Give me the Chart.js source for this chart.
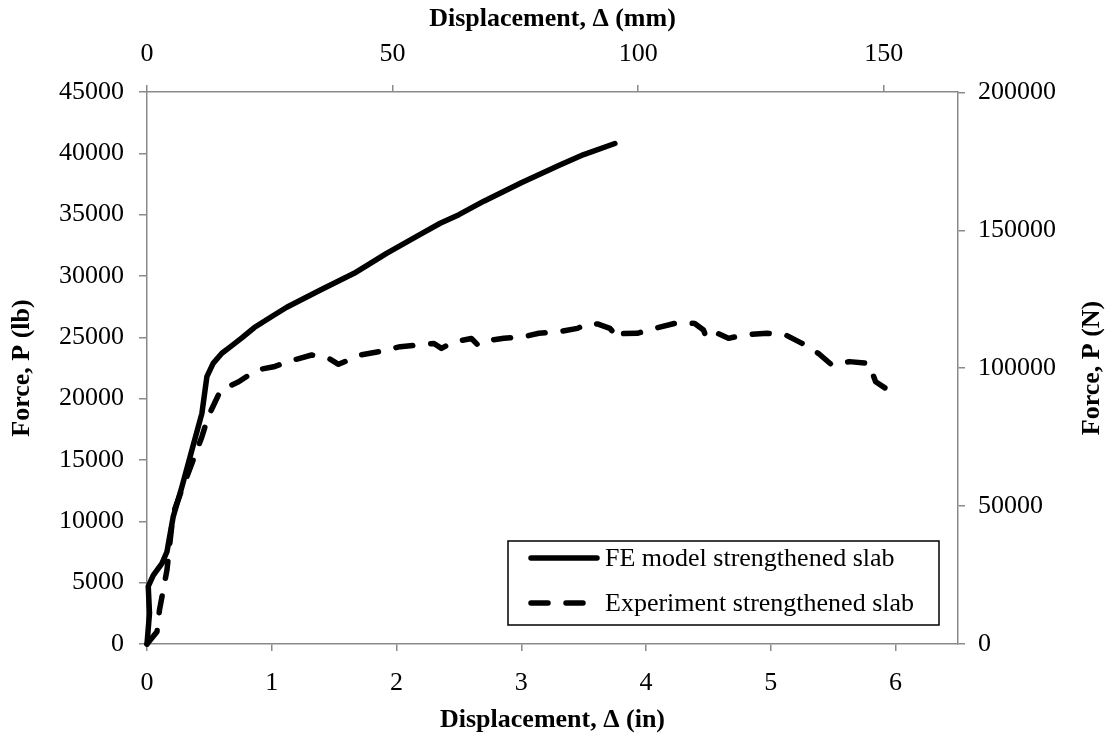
<!DOCTYPE html>
<html lang="en">
<head>
    <meta charset="UTF-8">
    <title>Force vs Displacement - Strengthened Slab</title>
    <script src="https://cdn.jsdelivr.net/npm/chart.js"></script>
    <style>
        body { margin: 0; background: #fff; }
        #wrap { width: 1115px; height: 743px; }
    </style>
</head>
<body>
    <div id="wrap"><canvas id="forceChart" width="1115" height="743"></canvas></div>

    <script>
    // FE model curve (displacement in, force lb)
    const feX = [0, 0.02, 0.01, 0.05, 0.12, 0.16, 0.21, 0.28, 0.36, 0.44, 0.48, 0.53, 0.6, 0.67, 0.76, 0.86, 1.0, 1.12, 1.39, 1.66, 1.92, 2.19, 2.35, 2.5, 2.7, 3.0, 3.3, 3.5, 3.75];
    const feY = [0, 2500, 4700, 5600, 6580, 7520, 10380, 12820, 15810, 18800, 21790, 22880, 23700, 24240, 24950, 25800, 26700, 27450, 28860, 30220, 31850, 33400, 34300, 35000, 36100, 37600, 39000, 39900, 40800];

    // Experiment curve
    const expX = [0, 0.08, 0.10, 0.13, 0.16, 0.18, 0.21, 0.28, 0.34, 0.385, 0.44, 0.49, 0.56, 0.59, 0.735, 0.88, 1.015, 1.175, 1.32, 1.455, 1.535, 1.71, 1.86, 2.03, 2.165, 2.3, 2.36, 2.45, 2.6, 2.65, 2.7, 2.86, 3.02, 3.14, 3.30, 3.45, 3.53, 3.61, 3.71, 3.78, 3.80, 3.93, 4.07, 4.25, 4.39, 4.46, 4.475, 4.515, 4.66, 4.78, 4.97, 5.12, 5.25, 5.38, 5.49, 5.63, 5.785, 5.84, 5.92, 6.0];
    const expY = [0, 1000, 2770, 4400, 6030, 7930, 10650, 12600, 14180, 15400, 16900, 18530, 20030, 20700, 21380, 22340, 22600, 23150, 23560, 23290, 22800, 23560, 23830, 24240, 24370, 24500, 24100, 24600, 24900, 24400, 24700, 24920, 25050, 25330, 25460, 25730, 26130, 26090, 25730, 24920, 25300, 25330, 25730, 26190, 26130, 25600, 25190, 25600, 24920, 25190, 25330, 25190, 24510, 23700, 22740, 23020, 22880, 21380, 20840, 20920];

    const seriesNames = ['FE model strengthened slab', 'Experiment strengthened slab'];

    // tick values of the four axes
    const inTickVals = [0, 1, 2, 3, 4, 5, 6];
    const mmTickVals = [0, 50, 100, 150];
    const lbTickVals = [0, 5000, 10000, 15000, 20000, 25000, 30000, 35000, 40000, 45000];
    const nTickVals = [0, 50000, 100000, 150000, 200000];

    // axis ranges (top and right axes are the metric versions of bottom and left)
    const inRange = [0, 6.5];
    const mmRange = [0, 165.1];
    const lbRange = [0, 45000];
    const nRange = [0, 200170];

    const toPoints = (xs, ys) => xs.map((x, i) => ({ x: x, y: ys[i] }));

    const axisGrey = '#8a8a8a';
    const serif = '"Liberation Serif", "Times New Roman", serif';
    const fontPx = 26;
    const tickFont = { family: serif, size: fontPx };
    const titleFont = { family: serif, size: fontPx, weight: 'bold' };

    function axis(pos, range, vals, title, size, titlePad, tickPad, tickLen) {
        return {
            type: 'linear',
            position: pos,
            min: range[0],
            max: range[1],
            afterBuildTicks: (s) => { s.ticks = vals.map(v => ({ value: v })); },
            afterFit: (s) => {
                if (s.isHorizontal()) s.height = size; else s.width = size;
            },
            ticks: {
                color: '#000',
                font: tickFont,
                padding: tickPad,
                maxRotation: 0,
                autoSkip: false,
                callback: (v) => String(v)
            },
            grid: {
                display: true,
                drawOnChartArea: false,
                drawTicks: true,
                tickLength: tickLen,
                tickColor: axisGrey,
                lineWidth: 1.5
            },
            border: { display: true, color: axisGrey, width: 1.5 },
            title: {
                display: !!title,
                text: title,
                color: '#000',
                font: titleFont,
                padding: titlePad
            }
        };
    }

    const legendBox = {
        id: 'legendBox',
        afterDraw(chart) {
            const ctx = chart.ctx;
            const area = chart.chartArea;
            const bx = area.right - 450, by = area.bottom - 103, bw = 431, bh = 84;
            ctx.save();
            ctx.fillStyle = '#fff';
            ctx.fillRect(bx, by, bw, bh);
            ctx.lineWidth = 1.5;
            ctx.strokeStyle = '#000';
            ctx.strokeRect(bx, by, bw, bh);
            chart.data.datasets.forEach((ds, i) => {
                const cy = by + 17 + i * 45;
                ctx.beginPath();
                ctx.setLineDash(ds.borderDash || []);
                ctx.lineWidth = ds.borderWidth;
                ctx.lineCap = ds.borderCapStyle || 'butt';
                ctx.strokeStyle = ds.borderColor;
                ctx.moveTo(bx + 23, cy);
                ctx.lineTo(bx + 89, cy);
                ctx.stroke();
                ctx.setLineDash([]);
                ctx.fillStyle = '#000';
                ctx.font = fontPx + 'px ' + serif;
                ctx.textBaseline = 'middle';
                ctx.textAlign = 'left';
                ctx.fillText(ds.label, bx + 97, cy + 1);
            });

            // right axis title, reading bottom to top like the left one
            ctx.translate(1092, (area.top + area.bottom) / 2);
            ctx.rotate(-Math.PI / 2);
            ctx.font = 'bold ' + fontPx + 'px ' + serif;
            ctx.textAlign = 'center';
            ctx.textBaseline = 'middle';
            ctx.fillText('Force, P (N)', 0, 0);
            ctx.restore();
        }
    };

    new Chart(document.getElementById('forceChart'), {
        type: 'line',
        data: {
            datasets: [{
                label: seriesNames[0],
                data: toPoints(feX, feY),
                borderColor: '#000',
                borderWidth: 5.5,
                borderCapStyle: 'round',
                borderJoinStyle: 'round',
                pointRadius: 0,
                tension: 0,
                fill: false,
                clip: false,
                xAxisID: 'x',
                yAxisID: 'y'
            }, {
                label: seriesNames[1],
                data: toPoints(expX, expY),
                borderColor: '#000',
                borderWidth: 5.5,
                borderDash: [17, 18],
                borderCapStyle: 'round',
                borderJoinStyle: 'round',
                pointRadius: 0,
                tension: 0,
                fill: false,
                clip: false,
                xAxisID: 'x',
                yAxisID: 'y'
            }]
        },
        options: {
            responsive: false,
            animation: false,
            layout: { padding: 0 },
            plugins: {
                legend: { display: false },
                tooltip: { enabled: false }
            },
            scales: {
                x: axis('bottom', inRange, inTickVals, 'Displacement, \u0394 (in)', 99, { top: 0, bottom: 7 }, 17, 7),
                x2: axis('top', mmRange, mmTickVals, 'Displacement, \u0394 (mm)', 92, { top: 4, bottom: 0 }, 15, 7),
                y: axis('left', lbRange, lbTickVals, 'Force, P (lb)', 147, { top: 7, bottom: 0 }, 15, 8),
                y2: axis('right', nRange, nTickVals, '', 157, 0, 13, 7)
            }
        },
        plugins: [legendBox]
    });
    </script>
</body>
</html>
